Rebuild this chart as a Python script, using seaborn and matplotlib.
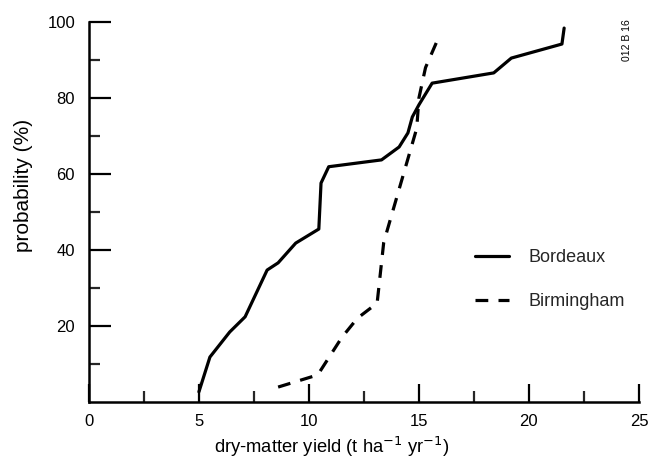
import matplotlib
matplotlib.use("Agg")
import matplotlib.pyplot as plt
import seaborn as sns
import pandas as pd
import numpy as np
from matplotlib.ticker import FixedLocator

sns.set_theme(style="ticks")
plt.rcParams['font.family'] = ['Liberation Sans', 'DejaVu Sans']

# Data
bordeaux_yield = [5.0, 5.0, 5.5, 6.4, 7.1, 8.1, 8.6, 9.4, 10.45, 10.55, 10.9,
                  13.3, 14.1, 14.5, 14.7, 15.0, 15.6, 18.4, 19.2, 21.5, 21.6]
bordeaux_prob = [0, 5.3, 11.8, 18.4, 22.4, 34.7, 36.6, 41.8, 45.5, 57.6, 61.9,
                 63.7, 67.1, 70.8, 75.0, 78.2, 83.9, 86.6, 90.5, 94.2, 98.4]

birmingham_yield = [8.6, 10.4, 11.5, 12.2, 13.1, 13.4, 13.9, 14.5, 14.9, 15.0, 15.3, 15.9]
birmingham_prob = [3.9, 7.1, 17.0, 22.0, 26.0, 42.0, 52.0, 64.0, 72.0, 80.0, 88.0, 96.0]

x_ticks = [0, 5, 10, 15, 20, 25]
y_ticks = [20, 40, 60, 80, 100]

df_b = pd.DataFrame({"yield": bordeaux_yield, "prob": bordeaux_prob})
df_m = pd.DataFrame({"yield": birmingham_yield, "prob": birmingham_prob})

fig = plt.figure(figsize=(6.49, 4.63), dpi=100)
ax = fig.add_axes([0.137, 0.132, 0.8475, 0.8205])

sns.lineplot(data=df_b, x="yield", y="prob", sort=False, color="black",
             linewidth=2.3, ax=ax, label="Bordeaux")
sns.lineplot(data=df_m, x="yield", y="prob", sort=False, color="black",
             linewidth=2.3, ax=ax, label="Birmingham")
ax.lines[1].set_dashes([4.0, 3.2])

ax.set_xlim(0, 25)
ax.set_ylim(0, 100)
ax.xaxis.set_major_locator(FixedLocator(x_ticks))
ax.xaxis.set_minor_locator(FixedLocator([2.5, 7.5, 12.5, 17.5, 22.5]))
ax.yaxis.set_major_locator(FixedLocator(y_ticks))
ax.yaxis.set_minor_locator(FixedLocator([10, 30, 50, 70, 90]))
ax.set_xticklabels([str(t) for t in x_ticks])
ax.set_yticklabels([str(t) for t in y_ticks])

for s in ["top", "right"]:
    ax.spines[s].set_visible(False)
for s in ["left", "bottom"]:
    ax.spines[s].set_linewidth(1.8)
    ax.spines[s].set_color("black")

ax.tick_params(axis="x", which="major", direction="in", length=13, width=1.6,
               pad=9, labelsize=12, colors="black")
ax.tick_params(axis="x", which="minor", direction="in", length=8, width=1.6)
ax.tick_params(axis="y", which="major", direction="in", length=16, width=1.6,
               pad=10, labelsize=12, colors="black")
ax.tick_params(axis="y", which="minor", direction="in", length=8, width=1.6)

ax.set_xlabel("dry-matter yield (t ha$^{-1}$ yr$^{-1}$)", fontsize=13.2,
              color="black")
ax.set_ylabel("probability (%)", fontsize=15, color="black")
ax.xaxis.set_label_coords(0.442, -0.088)
ax.yaxis.set_label_coords(-0.102, 0.571)

leg = ax.legend(loc="upper left", bbox_to_anchor=(0.672, 0.445), frameon=False,
                fontsize=13, handlelength=1.9, handletextpad=1.05,
                labelspacing=1.5)

fig.text(0.966, 0.914, "012 B 16", rotation=90, fontsize=7.5, ha="center",
         va="center", color="black")

fig.savefig("out.png", dpi=100, facecolor="white")
